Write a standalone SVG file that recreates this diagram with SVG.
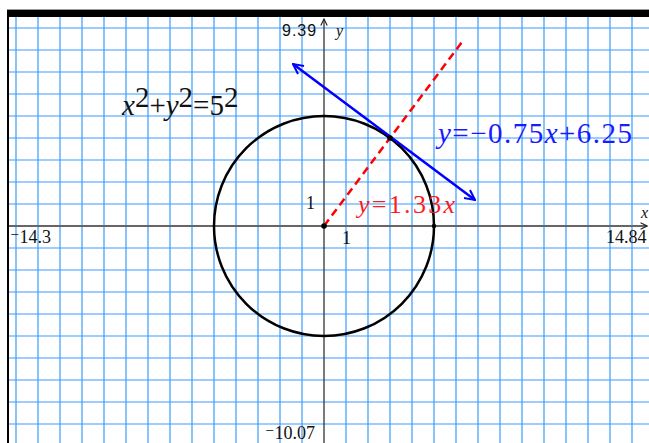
<svg xmlns="http://www.w3.org/2000/svg" width="649" height="443" viewBox="0 0 649 443">
<style>
.grid line{stroke:#3b9cff;stroke-width:1.2}
.num{font-family:"Liberation Serif","DejaVu Serif",serif;font-size:18px;fill:#111}
.axl{font-family:"Liberation Serif","DejaVu Serif",serif;font-style:italic;font-size:16px;fill:#111}
.eq{font-family:"Liberation Serif","DejaVu Serif",serif;font-size:29px;fill:#111}
.it{font-style:italic}
</style>
<defs>
<marker id="bArrow" viewBox="0 0 12 12" refX="11" refY="6" markerWidth="12" markerHeight="12" markerUnits="userSpaceOnUse" orient="auto-start-reverse">
<path d="M1,1 L11,6 L1,11" fill="none" stroke="#0000ff" stroke-width="2"/>
</marker>
<marker id="axArrow" viewBox="0 0 10 10" refX="9" refY="5" markerWidth="8" markerHeight="8" markerUnits="userSpaceOnUse" orient="auto">
<path d="M1,1 L9,5 L1,9" fill="none" stroke="#222" stroke-width="1.4"/>
</marker>
</defs>
<rect width="649" height="443" fill="#fff"/>
<g class="grid" id="grid">
<line x1="16" y1="17" x2="16" y2="443"/><line x1="38" y1="17" x2="38" y2="443"/><line x1="60" y1="17" x2="60" y2="443"/><line x1="82" y1="17" x2="82" y2="443"/><line x1="104" y1="17" x2="104" y2="443"/><line x1="126" y1="17" x2="126" y2="443"/><line x1="148" y1="17" x2="148" y2="443"/><line x1="170" y1="17" x2="170" y2="443"/><line x1="192" y1="17" x2="192" y2="443"/><line x1="214" y1="17" x2="214" y2="443"/><line x1="236" y1="17" x2="236" y2="443"/><line x1="258" y1="17" x2="258" y2="443"/><line x1="280" y1="17" x2="280" y2="443"/><line x1="302" y1="17" x2="302" y2="443"/>
<line x1="346" y1="17" x2="346" y2="443"/><line x1="368" y1="17" x2="368" y2="443"/><line x1="390" y1="17" x2="390" y2="443"/><line x1="412" y1="17" x2="412" y2="443"/><line x1="434" y1="17" x2="434" y2="443"/><line x1="456" y1="17" x2="456" y2="443"/><line x1="478" y1="17" x2="478" y2="443"/><line x1="500" y1="17" x2="500" y2="443"/><line x1="522" y1="17" x2="522" y2="443"/><line x1="544" y1="17" x2="544" y2="443"/><line x1="566" y1="17" x2="566" y2="443"/><line x1="588" y1="17" x2="588" y2="443"/><line x1="610" y1="17" x2="610" y2="443"/><line x1="632" y1="17" x2="632" y2="443"/>
<line x1="9" y1="28" x2="649" y2="28"/><line x1="9" y1="50" x2="649" y2="50"/><line x1="9" y1="72" x2="649" y2="72"/><line x1="9" y1="94" x2="649" y2="94"/><line x1="9" y1="116" x2="649" y2="116"/><line x1="9" y1="138" x2="649" y2="138"/><line x1="9" y1="160" x2="649" y2="160"/><line x1="9" y1="182" x2="649" y2="182"/><line x1="9" y1="204" x2="649" y2="204"/>
<line x1="9" y1="248" x2="649" y2="248"/><line x1="9" y1="270" x2="649" y2="270"/><line x1="9" y1="292" x2="649" y2="292"/><line x1="9" y1="314" x2="649" y2="314"/><line x1="9" y1="336" x2="649" y2="336"/><line x1="9" y1="358" x2="649" y2="358"/><line x1="9" y1="380" x2="649" y2="380"/><line x1="9" y1="402" x2="649" y2="402"/><line x1="9" y1="424" x2="649" y2="424"/>
</g>
<g id="frame">
<line x1="7" y1="9.5" x2="649" y2="9.5" stroke="#999" stroke-width="1"/>
<rect x="7" y="10" width="642" height="7" fill="#000"/>
<rect x="7" y="10" width="2" height="433" fill="#000"/>
</g>
<g id="axes">
<line x1="9" y1="226" x2="647" y2="226" stroke="#666" stroke-width="2" marker-end="url(#axArrow)"/>
<line x1="324" y1="443" x2="324" y2="19" stroke="#333" stroke-width="1.3" marker-end="url(#axArrow)"/>
</g>
<g id="circle">
<circle cx="324" cy="226" r="110" fill="none" stroke="#000" stroke-width="2.5"/>
</g>
<g id="connectors">
<line x1="324" y1="226" x2="462" y2="42" stroke="#ff0000" stroke-width="2.5" stroke-dasharray="8 5"/>
<line x1="293" y1="64" x2="475" y2="200" stroke="#0000ff" stroke-width="2.5" marker-start="url(#bArrow)" marker-end="url(#bArrow)"/>
</g>
<g id="points">
<circle cx="324" cy="226" r="2.8" fill="#000"/>
<circle cx="390" cy="138" r="2.8" fill="#000"/>
<circle cx="434" cy="226" r="2.2" fill="#000"/>
</g>
<g id="labels">
<text x="282" y="36" font-family="Liberation Sans, DejaVu Sans, sans-serif" font-size="16" fill="#111" letter-spacing="1">9.39</text>
<text class="axl" x="336" y="36">y</text>
<text class="axl" x="641" y="218">x</text>
<text class="num" x="10" y="243">⁻14.3</text>
<text class="num" x="606" y="243">14.84</text>
<text class="num" x="265" y="439">⁻10.07</text>
<text class="num" x="306" y="209" font-size="15">1</text>
<text class="num" x="342" y="244" font-size="15">1</text>
<text class="eq" x="122" y="115"><tspan class="it">x</tspan><tspan dy="-8">2</tspan><tspan dy="8">+</tspan><tspan class="it">y</tspan><tspan dy="-8">2</tspan><tspan dy="8">=5</tspan><tspan dy="-8">2</tspan></text>
<text x="438" y="143" font-family="Liberation Serif, DejaVu Serif, serif" font-size="29" fill="#1a1aff" textLength="194" lengthAdjust="spacing"><tspan font-style="italic">y</tspan>=−0.75<tspan font-style="italic">x</tspan>+6.25</text>
<text x="358" y="213" font-family="Liberation Serif, DejaVu Serif, serif" font-size="26" fill="#ff1a1a" textLength="97" lengthAdjust="spacing"><tspan font-style="italic">y</tspan>=1.33<tspan font-style="italic">x</tspan></text>
</g>
</svg>
